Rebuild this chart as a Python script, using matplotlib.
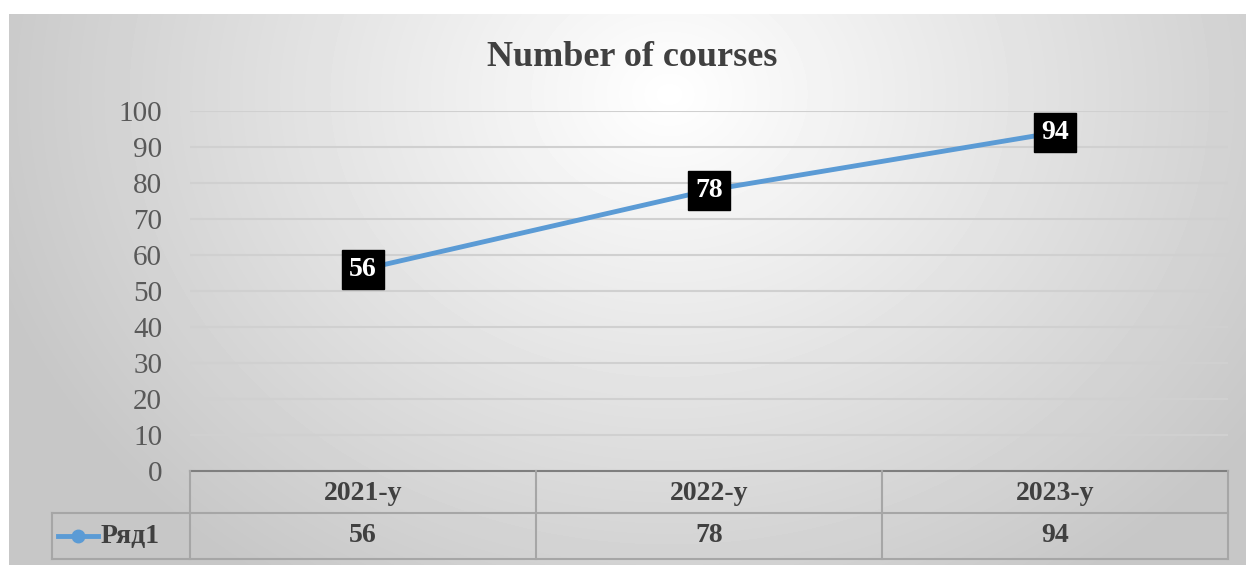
import numpy as np
import matplotlib.pyplot as plt

# Chart data
categories = ['2021-y', '2022-y', '2023-y']
values = [56, 78, 94]
series_name = 'Ряд1'
title = 'Number of courses'

W, H = 1246, 565
plt.rcParams['font.family'] = ['Liberation Serif', 'DejaVu Serif']

fig = plt.figure(figsize=(W / 100, H / 100), dpi=100)
fig.patch.set_facecolor('white')

# Background with radial gradient (chart area)
bg = fig.add_axes([9 / W, 0, 1 - 9 / W, 1 - 14 / H])
yy, xx = np.mgrid[0:551, 0:1237]
dist = np.sqrt(((xx - 660) / 900.0) ** 2 + ((yy - 80) / 750.0) ** 2)
shade = np.clip(1.0 - 0.28 * dist, 0.78, 1.0)
bg.imshow(shade, cmap='gray', vmin=0, vmax=1, aspect='auto', interpolation='bilinear')
bg.axis('off')

# Main plot area
x0, x1 = 190, 1228
ytop, ybot = 111, 471
ax = fig.add_axes([x0 / W, 1 - ybot / H, (x1 - x0) / W, (ybot - ytop) / H])
ax.patch.set_alpha(0)
xs = np.arange(len(categories))
ax.set_xlim(-0.5, len(categories) - 0.5)
ax.set_ylim(0, 100)
ax.set_yticks(np.arange(0, 101, 10))
ax.tick_params(axis='y', length=0, labelsize=21, labelcolor='#595959', pad=20)
ax.set_xticks([])
for s in ['left', 'right', 'top']:
    ax.spines[s].set_visible(False)
ax.spines['bottom'].set_color('#7f7f7f')
ax.spines['bottom'].set_linewidth(1.5)
ax.grid(axis='y', color='#d0d0d0', linewidth=1.5)
ax.set_axisbelow(True)

line_color = '#5b9bd5'
ax.plot(xs, values, color=line_color, linewidth=3.5, marker='o', markersize=8, clip_on=False)
for x, v in zip(xs, values):
    ax.text(x, v, str(v), ha='center', va='center', fontsize=20, fontweight='bold', color='white',
            bbox=dict(boxstyle='square,pad=0.25', facecolor='black', edgecolor='black'))

fig.text(632 / W, 1 - 58 / H, title, ha='center', va='center', fontsize=26,
         fontweight='bold', color='#404040')

# Data table
tab = fig.add_axes([0, 0, 1, 1])
tab.set_xlim(0, W)
tab.set_ylim(H, 0)
tab.axis('off')
tab.patch.set_alpha(0)
r0, r1, r2 = 471, 513, 559
lx = 52
cw = (x1 - x0) / len(categories)
grid_c = '#a6a6a6'
tab.plot([lx, x1], [r1, r1], color=grid_c, lw=1.5)
tab.plot([lx, x1], [r2, r2], color=grid_c, lw=1.5)
tab.plot([lx, lx], [r1, r2], color=grid_c, lw=1.5)
for i in range(len(categories) + 1):
    tab.plot([x0 + i * cw, x0 + i * cw], [r0, r2], color=grid_c, lw=1.5)
for i, (c, v) in enumerate(zip(categories, values)):
    cx = x0 + (i + 0.5) * cw
    tab.text(cx, (r0 + r1) / 2 + 1, c, ha='center', va='center', fontsize=20,
             fontweight='bold', color='#404040')
    tab.text(cx, (r1 + r2) / 2, str(v), ha='center', va='center', fontsize=20,
             fontweight='bold', color='#404040')
ym = (r1 + r2) / 2
tab.plot([58, 98], [ym, ym], color=line_color, lw=3.5)
tab.plot([78], [ym], 'o', color=line_color, markersize=9)
tab.text(101, ym, series_name, ha='left', va='center', fontsize=20,
         fontweight='bold', color='#404040')

fig.savefig('out.png', dpi=100)
